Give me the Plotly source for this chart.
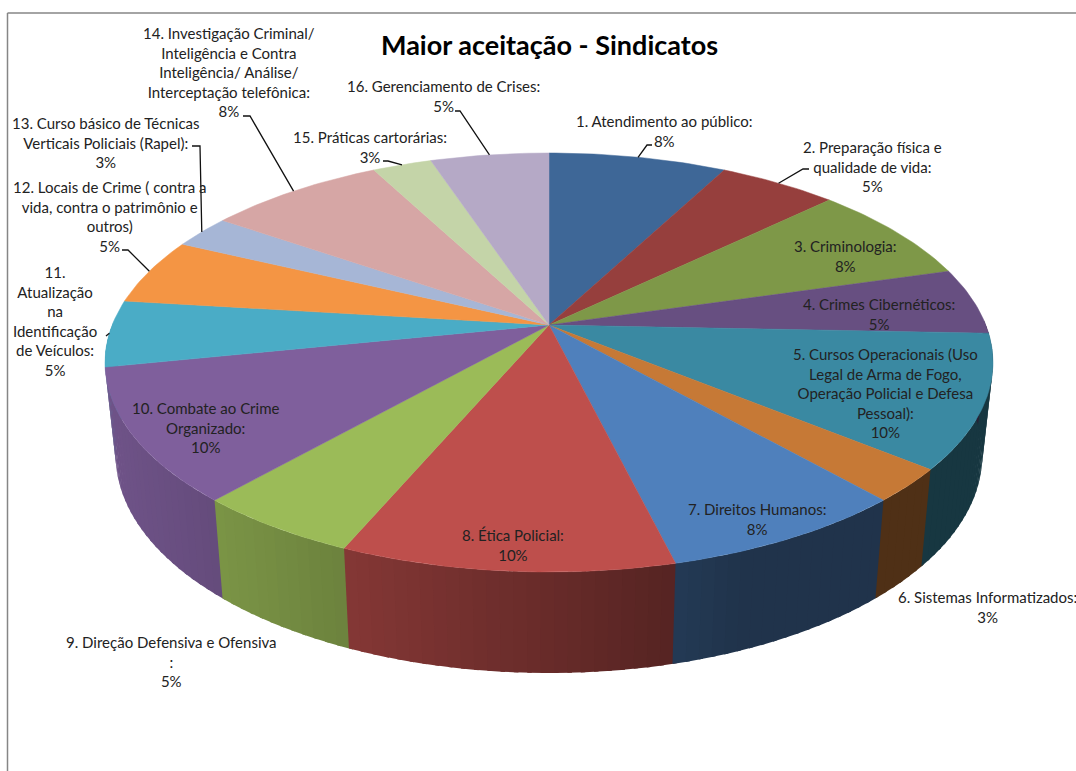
import math
import plotly.graph_objects as go

# ---- data ----
categories = [
    "1. Atendimento ao público:",
    "2. Preparação física e<br>qualidade de vida:",
    "3. Criminologia:",
    "4. Crimes Cibernéticos:",
    "5. Cursos Operacionais (Uso<br>Legal de Arma de Fogo,<br>Operação Policial e Defesa<br>Pessoal):",
    "6. Sistemas Informatizados:",
    "7. Direitos Humanos:",
    "8. Ética Policial:",
    "9. Direção Defensiva e Ofensiva<br>:",
    "10. Combate ao Crime<br>Organizado:",
    "11.<br>Atualização<br>na<br>Identificação<br>de Veículos:",
    "12. Locais de Crime ( contra a<br>vida, contra o patrimônio e<br>outros)",
    "13. Curso básico de Técnicas<br>Verticais Policiais (Rapel):",
    "14. Investigação Criminal/<br>Inteligência e Contra<br>Inteligência/ Análise/<br>Interceptação telefônica:",
    "15. Práticas cartorárias:",
    "16. Gerenciamento de Crises:",
]
values = [3, 2, 3, 2, 4, 1, 3, 4, 2, 4, 2, 2, 1, 3, 1, 2]
percent_labels = ["8%", "5%", "8%", "5%", "10%", "3%", "8%", "10%",
                  "5%", "10%", "5%", "5%", "3%", "8%", "3%", "5%"]
title_text = "Maior aceitação - Sindicatos"

slice_colors = ["#3E6797", "#963F3D", "#7E9848", "#674F81", "#3A89A2", "#C67936",
                "#4F80BC", "#BE4F4C", "#9BBB58", "#7F5F9C", "#4AACC6", "#F49544",
                "#A6B6D6", "#D6A6A5", "#C4D4A8", "#B5A9C6"]

# label centres in pixels (x, y of block middle)
label_x = [664, 872, 845, 879, 885, 987, 757, 513, 171, 206, 55, 109, 106, 229, 370, 443]
label_y = [131, 166, 256, 314, 393, 607, 519, 545, 661, 427, 321, 216, 142, 72, 147, 96]
# elbows of leader lines: slice index -> (elbow, tail)
leaders = {0: ((647, 145), (652, 145)), 1: ((803, 169), (809, 169)),
           10: ((106, 336), (106, 336)), 11: ((128, 250), (122, 250)),
           12: ((200, 146), (192, 146)), 13: ((250, 116), (243, 116)),
           14: ((388, 161), (383, 161)), 15: ((460, 111), (455, 111))}

# ---- projection of the disc (perspective view) ----
CX, CY, R, K, A = 549.0, 325.0, 436.8, 0.179, -144.6
total = sum(values)


def top_point(deg):
    u, v = math.sin(math.radians(deg)), math.cos(math.radians(deg))
    d = 1 + K * v
    return CX + R * u / d, (A * v + CY) / d


def low_point(deg):
    x, y = top_point(deg)
    return CX + 0.976 * (x - CX), y + 97 + 0.04 * (y - 471)


def shade(color, x):
    f = max(0.40, 0.79 - (x - 226) * 0.00076)
    r, g, b = (int(color[i:i + 2], 16) for i in (1, 3, 5))
    return f"rgb({r * f:.0f},{g * f:.0f},{b * f:.0f})"


def edge(points_from, points_to):
    return points_from + points_to


fig = go.Figure()
bounds = [0.0]
for v in values:
    bounds.append(bounds[-1] + v / total * 360)

# side wall: drawn from high angle to low angle, each band tucked under the next one
facets = []
for i, col in enumerate(slice_colors):
    a0, a1 = bounds[i], bounds[i + 1]
    n = max(1, round((a1 - a0) / 1.5))
    for j in range(n):
        s, e = a0 + (a1 - a0) * j / n, a0 + (a1 - a0) * (j + 1) / n
        if math.cos(math.radians((s + e) / 2)) < 0.02:
            facets.append((s, e, col))
for s, e, col in sorted(facets, key=lambda f: -f[0]):
    sx = s - 0.5
    angles = [sx, (sx + e) / 2, e]
    p = [top_point(a) for a in angles] + [low_point(a) for a in reversed(angles)]
    p.append(p[0])
    c = shade(col, (low_point(s)[0] + low_point(e)[0]) / 2)
    fig.add_trace(go.Scatter(x=[q[0] for q in p], y=[q[1] for q in p], mode="lines",
                             fill="toself", fillcolor=c, line=dict(width=0),
                             hoverinfo="skip", showlegend=False))

# top face
for i, col in enumerate(slice_colors):
    a0, a1 = bounds[i], bounds[i + 1]
    n = max(2, round(a1 - a0))
    pts = [(CX, CY)] + [top_point(a0 + (a1 - a0) * j / n) for j in range(n + 1)] + [(CX, CY)]
    fig.add_trace(go.Scatter(x=[q[0] for q in pts], y=[q[1] for q in pts], mode="lines",
                             fill="toself", fillcolor=col, line=dict(color=col, width=0.5),
                             hoverinfo="skip", showlegend=False))

# leader lines
for i, (elbow, tail) in leaders.items():
    rim = top_point((bounds[i] + bounds[i + 1]) / 2)
    fig.add_trace(go.Scatter(x=[rim[0], elbow[0], tail[0]], y=[rim[1], elbow[1], tail[1]],
                             mode="lines", line=dict(color="#111111", width=1.3),
                             hoverinfo="skip", showlegend=False))

annotations = []
for name, pct, x, y in zip(categories, percent_labels, label_x, label_y):
    annotations.append(dict(x=x, y=y, xref="x", yref="y", text=f"{name}<br>{pct}", showarrow=False,
                            xanchor="center", yanchor="middle", align="center",
                            font=dict(family="Lato", size=15, color="#222222")))
annotations.append(dict(x=549, y=44, xref="x", yref="y", text=f"<b>{title_text}</b>", showarrow=False,
                        xanchor="center", yanchor="middle",
                        font=dict(family="Lato", size=27, color="#000000")))

border = dict(color="#868686", width=1.5)
fig.update_layout(
    width=1076, height=771, autosize=False,
    margin=dict(l=0, r=0, t=0, b=0),
    paper_bgcolor="white", plot_bgcolor="white",
    xaxis=dict(range=[0, 1076], visible=False, fixedrange=True),
    yaxis=dict(range=[771, 0], visible=False, fixedrange=True),
    annotations=annotations,
    shapes=[dict(type="line", xref="x", yref="y", x0=7.5, x1=7.5, y0=13, y1=771, line=border),
            dict(type="line", xref="x", yref="y", x0=7.5, x1=1076, y0=13, y1=13, line=border)],
)
fig.write_html("out.html", config={"displayModeBar": False},
               post_script="document.body.style.margin='0';document.body.style.overflow='hidden';")
